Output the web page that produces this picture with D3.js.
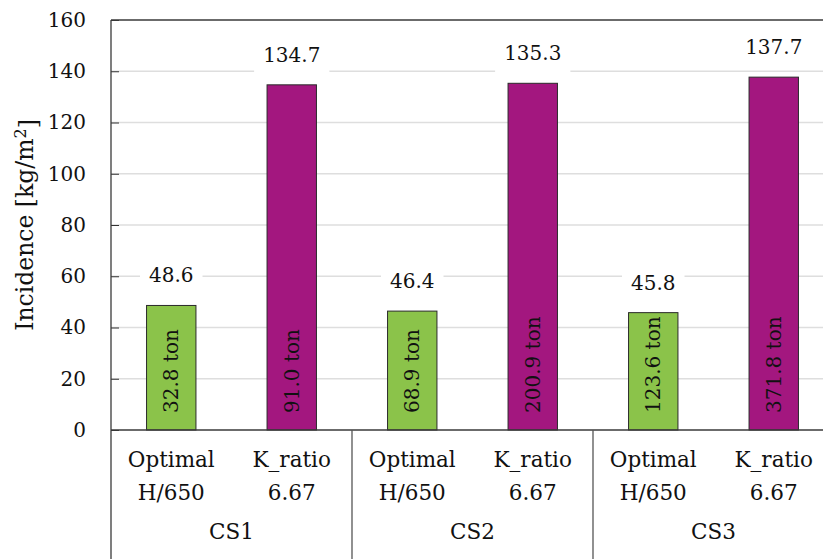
<!DOCTYPE html>
<html>
<head>
<meta charset="utf-8">
<script src="https://cdn.jsdelivr.net/npm/d3@7"></script>
<style>
  html, body { margin: 0; padding: 0; background: #fff; }
  svg { display: block; }
  svg text { font-family: "DejaVu Serif", serif; fill: #111; }
</style>
</head>
<body>
<svg id="chart" width="823" height="559"></svg>
<script>
// ---- data ----
const groups = ["CS1", "CS2", "CS3"];
const methods = ["Optimal", "K_ratio"];
const methodSub = ["H/650", "6.67"];
const incidenceOptimal = [48.6, 46.4, 45.8];
const incidenceKratio = [134.7, 135.3, 137.7];
const tonOptimal = ["32.8", "68.9", "123.6"];
const tonKratio = ["91.0", "200.9", "371.8"];
const yTicks = [0, 20, 40, 60, 80, 100, 120, 140, 160];
const colors = ["#8bc34a", "#a3177f"];

const rows = [];
groups.forEach((g, i) => {
  rows.push({ group: g, method: methods[0], sub: methodSub[0], value: incidenceOptimal[i], ton: tonOptimal[i], color: colors[0] });
  rows.push({ group: g, method: methods[1], sub: methodSub[1], value: incidenceKratio[i], ton: tonKratio[i], color: colors[1] });
});

// ---- layout ----
const W = 823, H = 559;
const leftX = 111, topY = 20, zeroY = 430, rightEnd = 834;
const svg = d3.select("#chart");
const FF = "DejaVu Serif, serif";

const x0 = d3.scaleBand().domain(groups).range([leftX, rightEnd]).padding(0);
const x1 = d3.scaleBand().domain(methods).range([0, x0.bandwidth()]).padding(0);
const barW = x1.bandwidth() * 0.41;
const y = d3.scaleLinear().domain([0, 160]).range([zeroY, topY]);

const fs = 20;
const fsCat = 21.5;
const fsLab = 23.5;

// gridlines
svg.append("g").selectAll("line")
  .data(yTicks.filter(t => t > 0 && t < 160))
  .join("line")
  .attr("x1", leftX).attr("x2", W)
  .attr("y1", d => y(d)).attr("y2", d => y(d))
  .attr("stroke", "#dedede").attr("stroke-width", 1.3);

// bars
const bx = d => x0(d.group) + x1(d.method) + (x1.bandwidth() - barW) / 2;
svg.append("g").selectAll("rect")
  .data(rows)
  .join("rect")
  .attr("x", d => bx(d))
  .attr("y", d => y(d.value))
  .attr("width", barW)
  .attr("height", d => y(0) - y(d.value))
  .attr("fill", d => d.color)
  .attr("stroke", "#2a2a2a").attr("stroke-width", 1);

// rotated tonnage labels inside bars
svg.append("g").selectAll("text")
  .data(rows)
  .join("text")
  .attr("transform", d => `translate(${bx(d) + barW / 2 + 7},${zeroY - 17}) rotate(-90)`)
  .attr("text-anchor", "start")
  .style("font-family", FF)
  .style("font-size", fs + "px")
  .text(d => d.ton + " ton");

// value labels with white boxes
const vl = svg.append("g").selectAll("g")
  .data(rows)
  .join("g")
  .attr("transform", d => `translate(${bx(d) + barW / 2},${y(d.value) - 30})`);
vl.append("text")
  .attr("text-anchor", "middle")
  .attr("dy", "0.35em")
  .style("font-family", FF)
  .style("font-size", fs + "px")
  .text(d => d.value.toFixed(1));
vl.each(function () {
  const g = d3.select(this);
  const bb = g.select("text").node().getBBox();
  g.insert("rect", "text")
    .attr("x", bb.x - 9).attr("width", bb.width + 18)
    .attr("y", -19).attr("height", 38)
    .attr("fill", "#fff");
});

// y axis (ticks inside)
const yAxis = d3.axisLeft(y).tickValues(yTicks).tickSizeInner(-8).tickSizeOuter(0).tickPadding(25);
const ga = svg.append("g").attr("transform", `translate(${leftX},0)`).call(yAxis);
ga.attr("font-family", null);
ga.select(".domain").remove();
ga.selectAll(".tick line").attr("stroke", "#333");
ga.selectAll(".tick text").style("font-size", fs + "px").attr("fill", "#111")
  .style("font-family", FF);

// frame lines
const axisColor = "#3a3a3a";
svg.append("line").attr("x1", leftX).attr("x2", W).attr("y1", topY).attr("y2", topY)
  .attr("stroke", axisColor).attr("stroke-width", 1.3);
svg.append("line").attr("x1", leftX).attr("x2", W).attr("y1", zeroY).attr("y2", zeroY)
  .attr("stroke", axisColor).attr("stroke-width", 1.3);
svg.append("line").attr("x1", leftX).attr("x2", leftX).attr("y1", topY).attr("y2", H)
  .attr("stroke", axisColor).attr("stroke-width", 1.3);
// group separators
svg.append("g").selectAll("line")
  .data(groups.slice(1))
  .join("line")
  .attr("x1", d => x0(d)).attr("x2", d => x0(d))
  .attr("y1", zeroY).attr("y2", H)
  .attr("stroke", "#555").attr("stroke-width", 1.3);

// category labels
const cl = svg.append("g").selectAll("g")
  .data(rows)
  .join("g")
  .attr("transform", d => `translate(${bx(d) + barW / 2},0)`);
cl.append("text").attr("y", 467).attr("text-anchor", "middle")
  .style("font-family", FF).style("font-size", fsCat + "px").text(d => d.method);
cl.append("text").attr("y", 500).attr("text-anchor", "middle")
  .style("font-family", FF).style("font-size", fsCat + "px").text(d => d.sub);

svg.append("g").selectAll("text")
  .data(groups)
  .join("text")
  .attr("x", d => x0(d) + x0.bandwidth() / 2)
  .attr("y", 539)
  .attr("text-anchor", "middle")
  .style("font-family", FF)
  .style("font-size", fsCat + "px")
  .text(d => d);

// y label
const yl = svg.append("text")
  .attr("transform", `translate(33,${(topY + zeroY) / 2}) rotate(-90)`)
  .attr("text-anchor", "middle")
  .style("font-family", FF)
  .style("font-size", fsLab + "px");
yl.append("tspan").text("Incidence [kg/m");
yl.append("tspan").attr("dy", "-0.45em").style("font-size", "16px").text("2");
yl.append("tspan").attr("dy", "0.45em").text("]");
</script>
</body>
</html>
